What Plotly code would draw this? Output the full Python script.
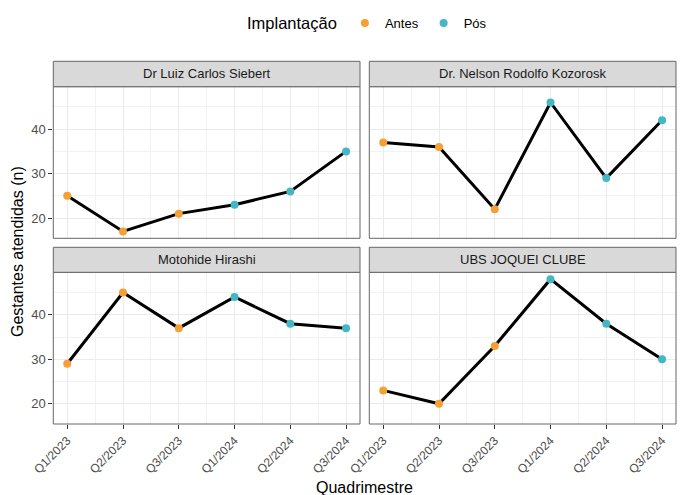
import plotly.graph_objects as go

quarters = ["Q1/2023", "Q2/2023", "Q3/2023", "Q1/2024", "Q2/2024", "Q3/2024"]
phase = ["Antes", "Antes", "Antes", "Pós", "Pós", "Pós"]
units = ["Dr Luiz Carlos Siebert", "Dr. Nelson Rodolfo Kozorosk", "Motohide Hirashi", "UBS JOQUEI CLUBE"]
siebert = [25, 17, 21, 23, 26, 35]
nelson = [37, 36, 22, 46, 29, 42]
motohide = [29, 45, 37, 44, 38, 37]
joquei = [23, 20, 33, 48, 38, 30]
series = [siebert, nelson, motohide, joquei]

W, H = 681, 495
colors = {"Antes": "#F5A034", "Pós": "#44B7C2"}
FONT = "Liberation Sans"

# panel pixel boxes (left, right, top, bottom) and strip tops
xcols = [(53.3, 360.0), (369.3, 676.0)]
yrows = [(86.7, 238.3, 61.3), (272.3, 424.0, 247.3)]

def px_x(v):
    return v / W

def px_y(v):
    return 1 - v / H

fig = go.Figure()
xpos = list(range(1, len(quarters) + 1))
allv = [v for s in series for v in s]
lo, hi = min(allv), max(allv)
pad = (hi - lo) * 0.05
yrange = [lo - pad, hi + pad]

shapes = []
annotations = []
for i, (name, vals) in enumerate(zip(units, series)):
    r, c = divmod(i, 2)
    n = i + 1
    xa = "x" if n == 1 else f"x{n}"
    ya = "y" if n == 1 else f"y{n}"
    xl, xr = xcols[c]
    yt, yb, st = yrows[r]
    xkey = "xaxis" if n == 1 else f"xaxis{n}"
    ykey = "yaxis" if n == 1 else f"yaxis{n}"
    bottom = r == 1
    left = c == 0
    fig.update_layout(**{
        xkey: dict(domain=[px_x(xl), px_x(xr)], anchor=ya, range=[0.75, 6.25],
                   tickmode="array", tickvals=xpos, ticktext=quarters,
                   showticklabels=bottom, ticks="outside" if bottom else "",
                   ticklen=4, tickwidth=1, tickcolor="#333333",
                   tickangle=-45, tickfont=dict(size=12, color="#4D4D4D", family=FONT),
                   showgrid=True, gridcolor="#EBEBEB", gridwidth=1.1,
                   minor=dict(tickvals=[1.5, 2.5, 3.5, 4.5, 5.5], showgrid=True,
                              gridcolor="#F2F2F2", gridwidth=0.6, ticks=""),
                   zeroline=False, showline=False, fixedrange=True, automargin=False),
        ykey: dict(domain=[px_y(yb), px_y(yt)], anchor=xa, range=yrange,
                   tickmode="array", tickvals=[20, 30, 40],
                   showticklabels=left, ticks="outside" if left else "",
                   ticklen=4, tickwidth=1, tickcolor="#333333",
                   tickfont=dict(size=13, color="#4D4D4D", family=FONT),
                   showgrid=True, gridcolor="#EBEBEB", gridwidth=1.1,
                   minor=dict(tickvals=[25, 35, 45], showgrid=True,
                              gridcolor="#F2F2F2", gridwidth=0.6, ticks=""),
                   zeroline=False, showline=False, fixedrange=True, automargin=False),
    })
    fig.add_trace(go.Scatter(x=xpos, y=vals, mode="lines", xaxis=xa, yaxis=ya,
                             line=dict(color="black", width=3), showlegend=False,
                             hoverinfo="skip"))
    fig.add_trace(go.Scatter(x=xpos, y=vals, mode="markers", xaxis=xa, yaxis=ya,
                             marker=dict(color=[colors[p] for p in phase], size=8),
                             showlegend=False))
    # panel border
    shapes.append(dict(type="rect", xref="paper", yref="paper",
                       x0=px_x(xl), x1=px_x(xr), y0=px_y(yb), y1=px_y(yt),
                       line=dict(color="#666666", width=1), fillcolor="rgba(0,0,0,0)"))
    # strip
    shapes.append(dict(type="rect", xref="paper", yref="paper",
                       x0=px_x(xl), x1=px_x(xr), y0=px_y(yt), y1=px_y(st),
                       line=dict(color="#666666", width=1), fillcolor="#D9D9D9"))
    annotations.append(dict(text=name, xref="paper", yref="paper",
                            x=px_x((xl + xr) / 2), y=px_y((yt + st) / 2),
                            showarrow=False, xanchor="center", yanchor="middle",
                            font=dict(size=13, color="#1A1A1A", family=FONT)))

for p in ["Antes", "Pós"]:
    fig.add_trace(go.Scatter(x=[None], y=[None], mode="markers", name=p,
                             marker=dict(color=colors[p], size=8), showlegend=True))

annotations.append(dict(text="Quadrimestre", xref="paper", yref="paper",
                        x=px_x((53.3 + 676) / 2), y=px_y(487), showarrow=False,
                        xanchor="center", yanchor="middle",
                        font=dict(size=16, color="black", family=FONT)))
annotations.append(dict(text="Gestantes atendidas (n)", xref="paper", yref="paper",
                        x=px_x(18), y=px_y(252), showarrow=False, textangle=-90,
                        xanchor="center", yanchor="middle",
                        font=dict(size=16, color="black", family=FONT)))

fig.update_layout(
    width=W, height=H, margin=dict(l=0, r=0, t=0, b=0),
    paper_bgcolor="white", plot_bgcolor="white",
    font=dict(family=FONT),
    shapes=shapes, annotations=annotations,
    legend=dict(orientation="h", x=px_x(245), y=px_y(8), xanchor="left", yanchor="top",
                title=dict(text="Implantação", font=dict(size=16.5, color="black", family=FONT), side="left"),
                font=dict(size=13, color="black", family=FONT), itemwidth=30,
                bgcolor="rgba(0,0,0,0)"),
)

fig.write_html("out.html", config={"displayModeBar": False},
               post_script="document.body.style.margin='0';document.body.style.overflow='hidden';")
